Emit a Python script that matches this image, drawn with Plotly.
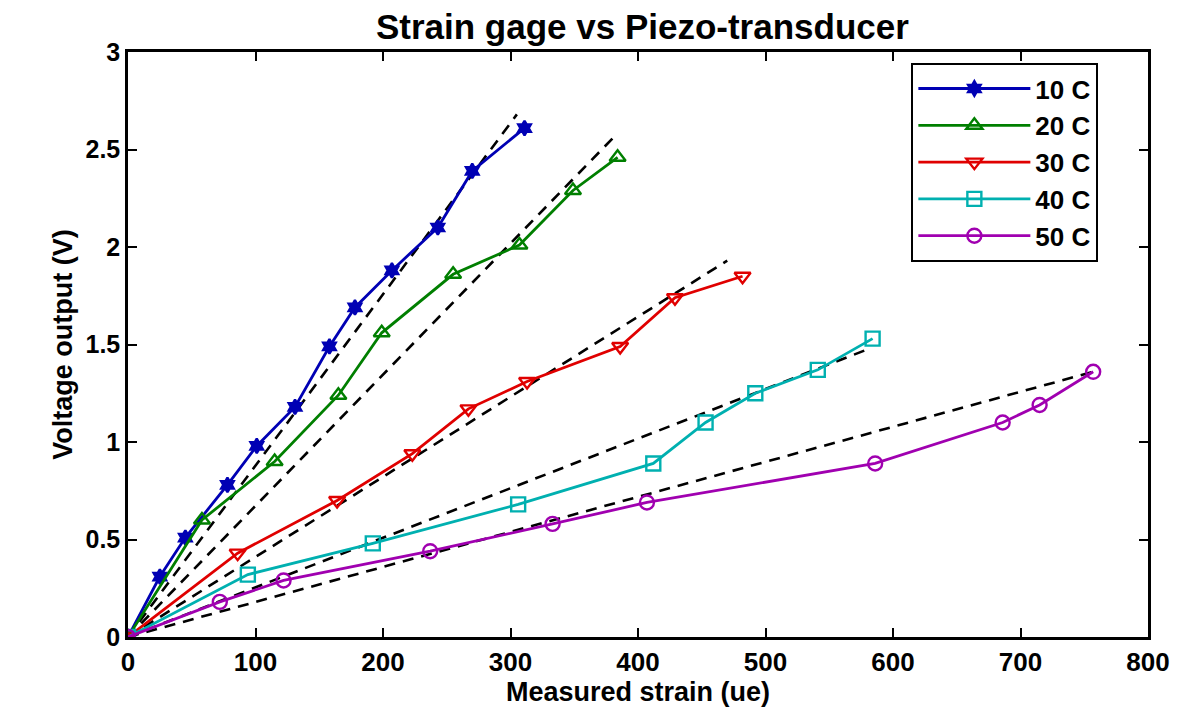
import plotly.graph_objects as go

# Data
names = ["10 C", "20 C", "30 C", "40 C", "50 C"]
colors = ["#0000b4", "#007f00", "#e00000", "#00b0b0", "#a000b0"]
symbols = ["hexagram", "triangle-up-open", "triangle-down-open", "square-open", "circle-open"]

x10 = [0, 25, 45, 78, 101, 131, 158, 178, 207, 243, 270, 311]
y10 = [0, 0.31, 0.51, 0.78, 0.98, 1.18, 1.49, 1.69, 1.88, 2.10, 2.39, 2.61]

x20 = [0, 58, 115, 165, 199, 255, 307, 349, 384]
y20 = [0, 0.60, 0.90, 1.24, 1.56, 1.86, 2.01, 2.29, 2.46]

x30 = [0, 86, 164, 223, 267, 313, 386, 429, 482]
y30 = [0, 0.43, 0.70, 0.94, 1.17, 1.31, 1.49, 1.74, 1.85]

x40 = [0, 94, 192, 306, 412, 453, 492, 541, 584]
y40 = [0, 0.32, 0.48, 0.68, 0.89, 1.10, 1.25, 1.37, 1.53]

x50 = [0, 72, 122, 237, 333, 407, 586, 686, 715, 757]
y50 = [0, 0.18, 0.29, 0.44, 0.58, 0.69, 0.89, 1.10, 1.19, 1.36]

# Linear fits (dashed) endpoints
fit_x_end = [305, 382, 470, 578, 757]
fit_y_end = [2.68, 2.57, 1.93, 1.47, 1.36]

xs = [x10, x20, x30, x40, x50]
ys = [y10, y20, y30, y40, y50]

x_ticks = [0, 100, 200, 300, 400, 500, 600, 700, 800]
y_ticks = [0, 0.5, 1, 1.5, 2, 2.5, 3]
y_ticklabels = ["0", "0.5", "1", "1.5", "2", "2.5", "3"]

fig = go.Figure()

for i in range(5):
    fig.add_trace(go.Scatter(
        x=[0, fit_x_end[i]], y=[0, fit_y_end[i]], mode="lines",
        line=dict(color="black", width=2.6, dash="11px,8px"),
        showlegend=False, hoverinfo="skip"))

for i in range(5):
    fig.add_trace(go.Scatter(
        x=xs[i], y=ys[i], mode="lines+markers", name="<b>%s</b>" % names[i],
        line=dict(color=colors[i], width=2.8),
        marker=dict(symbol=symbols[i], size=14 if i > 0 else 11,
                    color=colors[i], line=dict(color=colors[i], width=2.4))))

font_main = "Liberation Sans, Arial, sans-serif"

fig.update_layout(
    width=1188, height=709,
    paper_bgcolor="white", plot_bgcolor="white",
    margin=dict(l=120, r=48, t=44, b=80),
    title=dict(text="<b>Strain gage vs Piezo-transducer</b>", x=0.534, xanchor="center",
               y=0.973, yanchor="middle",
               font=dict(family=font_main, size=35, color="black")),
    font=dict(family=font_main, color="black"),
    legend=dict(x=0.768, y=0.981, xanchor="left", yanchor="top",
                bgcolor="white", bordercolor="black", borderwidth=2,
                font=dict(family=font_main, size=26, color="black"),
                itemwidth=112, tracegroupgap=0),
    showlegend=True,
)

fig.update_xaxes(
    range=[0, 800], tickvals=x_ticks,
    ticktext=["<b>%d</b>" % v for v in x_ticks],
    ticks="inside", ticklen=9, tickwidth=2, tickcolor="black",
    showline=True, linecolor="black", linewidth=2.5, mirror="ticks",
    showgrid=False, zeroline=False, automargin=False,
    tickfont=dict(family=font_main, size=26, color="black"),
    title=dict(text="<b>Measured strain (ue)</b>", standoff=0,
               font=dict(family=font_main, size=27, color="black")),
)
fig.update_yaxes(
    range=[0, 3], tickvals=y_ticks,
    ticktext=["<b>%s</b>" % t for t in y_ticklabels],
    ticks="inside", ticklen=9, tickwidth=2, tickcolor="black",
    showline=True, linecolor="black", linewidth=2.5, mirror="ticks",
    showgrid=False, zeroline=False, automargin=False,
    tickfont=dict(family=font_main, size=25, color="black"),
    title=dict(text="<b>Voltage output (V)</b>", standoff=6,
               font=dict(family=font_main, size=27, color="black")),
)

fig.write_html("out.html")
